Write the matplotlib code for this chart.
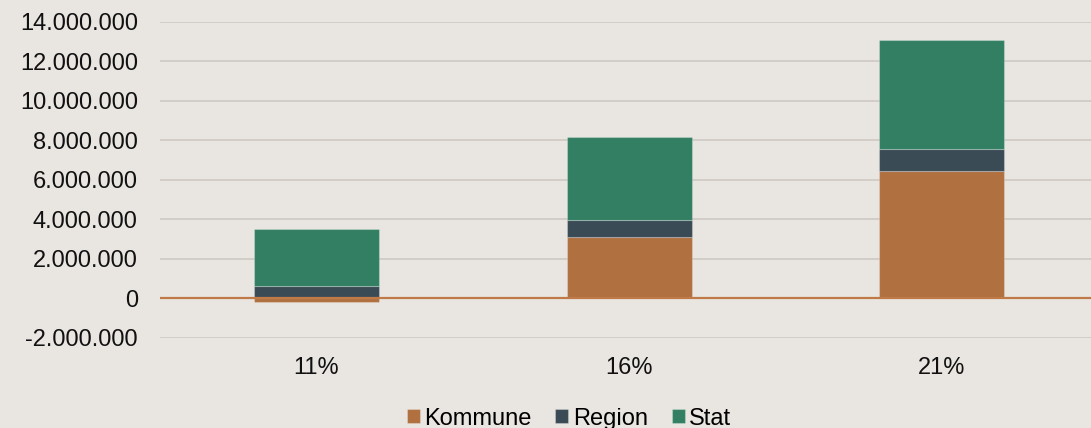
import numpy as np
import matplotlib
matplotlib.use("Agg")
import matplotlib.pyplot as plt
from matplotlib.ticker import FuncFormatter, MultipleLocator

# data
categories = ["11%", "16%", "21%"]
kommune = [-200000, 3110000, 6440000]
region = [610000, 850000, 1120000]
stat = [2890000, 4210000, 5510000]

series = [("Kommune", kommune, "#B07040"),
          ("Region", region, "#3A4B55"),
          ("Stat", stat, "#327F63")]

bg = "#E9E6E1"
plt.rcParams["font.family"] = ["Liberation Sans", "DejaVu Sans"]

fig = plt.figure(figsize=(10.91, 4.28), dpi=100, facecolor=bg)
ax = fig.add_axes([0.1467, 0.2103, 0.8598, 0.7383], facecolor=bg)

x = np.arange(len(categories))
pos_bottom = np.zeros(len(categories))
neg_bottom = np.zeros(len(categories))
for name, vals, color in series:
    vals = np.array(vals, dtype=float)
    bottom = np.where(vals >= 0, pos_bottom, neg_bottom)
    ax.bar(x, vals, width=0.4, bottom=bottom, color=color, label=name,
           edgecolor=(1, 1, 1, 0.25), linewidth=0.8, zorder=3)
    pos_bottom = pos_bottom + np.clip(vals, 0, None)
    neg_bottom = neg_bottom + np.clip(vals, None, 0)

ax.set_xlim(-0.5, len(categories) - 0.5)
ax.set_ylim(-2000000, 14000000)
ax.yaxis.set_major_locator(MultipleLocator(2000000))
ax.yaxis.set_major_formatter(FuncFormatter(lambda v, p: f"{int(round(v)):,}".replace(",", ".")))
ax.set_xticks(x)
ax.set_xticklabels(categories)
ax.grid(axis="y", color="#CEC9C2", linewidth=1.2, zorder=0)
ax.axhline(0, color="#C07A48", linewidth=1.6, zorder=4)

for s in ax.spines.values():
    s.set_visible(False)
ax.tick_params(axis="both", length=0, labelsize=17, colors="#111111")
ax.tick_params(axis="y", pad=16)
ax.tick_params(axis="x", pad=14)

ax.legend(loc="center", bbox_to_anchor=(0.5215, 0.022), bbox_transform=fig.transFigure,
          ncol=3, frameon=False, fontsize=17, handlelength=0.55, handleheight=0.55,
          handletextpad=0.2, columnspacing=1.0, borderpad=0)

fig.savefig("out.png", dpi=100, facecolor=bg)
